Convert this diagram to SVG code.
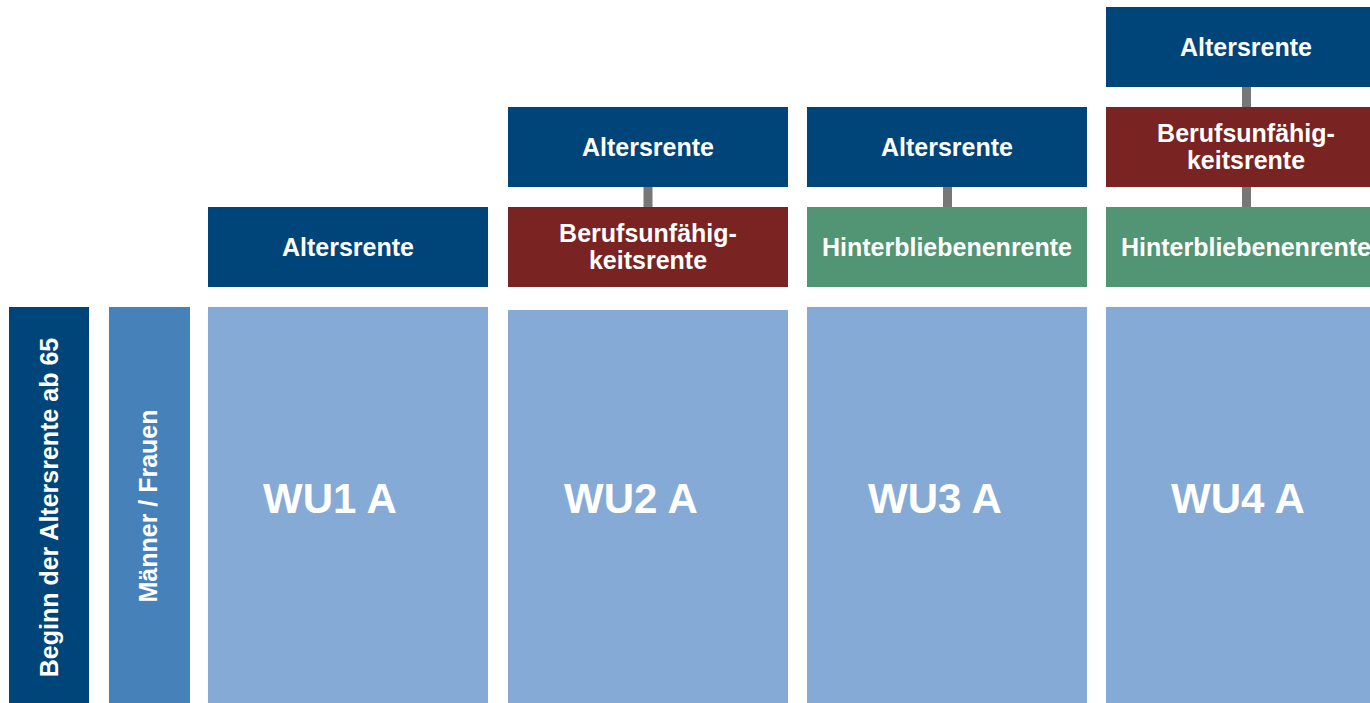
<svg xmlns="http://www.w3.org/2000/svg" width="1370" height="703" viewBox="0 0 1370 703">
<style>
.t{font-family:"Liberation Sans",Arial,sans-serif;font-weight:bold;fill:#ffffff;font-size:25px;text-anchor:middle}
.wu{font-size:42px;text-anchor:start}
.dk{fill:#00457A}
.rd{fill:#7A2323}
.gr{fill:#529574}
.lb{fill:#86AAD6}
.mb{fill:#4682B9}
.cn{fill:#777777}
</style>
<rect width="1370" height="703" fill="#ffffff"/>
<g id="connectors">
<rect class="cn" x="643.5" y="187" width="9" height="20"/>
<rect class="cn" x="943" y="187" width="9" height="20"/>
<rect class="cn" x="1242" y="87" width="9" height="20"/>
<rect class="cn" x="1242" y="187" width="9" height="20"/>
</g>
<g id="beginn">
<rect class="dk" x="9" y="307" width="80" height="396"/>
<text class="t" transform="translate(57.5,507.5) rotate(-90)">Beginn der Altersrente ab 65</text>
</g>
<g id="geschlecht">
<rect class="mb" x="109" y="307" width="81" height="396"/>
<text class="t" transform="translate(156.5,506) rotate(-90)">Männer / Frauen</text>
</g>
<g id="wu1">
<rect class="lb" x="208" y="307" width="280" height="396"/>
<text class="t wu" x="263" y="513">WU1 A</text>
</g>
<g id="wu1-alters">
<rect class="dk" x="208" y="207" width="280" height="80"/>
<text class="t" x="348" y="255.7">Altersrente</text>
</g>
<g id="wu2">
<rect class="lb" x="508" y="310" width="280" height="393"/>
<text class="t wu" x="564" y="513">WU2 A</text>
</g>
<g id="wu2-alters">
<rect class="dk" x="508" y="107" width="280" height="80"/>
<text class="t" x="648" y="155.7">Altersrente</text>
</g>
<g id="wu2-bu">
<rect class="rd" x="508" y="207" width="280" height="80"/>
<text class="t" x="648" y="242">Berufsunfähig-</text>
<text class="t" x="648" y="269">keitsrente</text>
</g>
<g id="wu3">
<rect class="lb" x="807" y="307" width="280" height="396"/>
<text class="t wu" x="868" y="513">WU3 A</text>
</g>
<g id="wu3-alters">
<rect class="dk" x="807" y="107" width="280" height="80"/>
<text class="t" x="947" y="155.7">Altersrente</text>
</g>
<g id="wu3-hinter">
<rect class="gr" x="807" y="207" width="280" height="80"/>
<text class="t" x="947" y="255.7">Hinterbliebenenrente</text>
</g>
<g id="wu4">
<rect class="lb" x="1106" y="307" width="280" height="396"/>
<text class="t wu" x="1171" y="513">WU4 A</text>
</g>
<g id="wu4-alters">
<rect class="dk" x="1106" y="7" width="280" height="80"/>
<text class="t" x="1246" y="55.7">Altersrente</text>
</g>
<g id="wu4-bu">
<rect class="rd" x="1106" y="107" width="280" height="80"/>
<text class="t" x="1246" y="142">Berufsunfähig-</text>
<text class="t" x="1246" y="169">keitsrente</text>
</g>
<g id="wu4-hinter">
<rect class="gr" x="1106" y="207" width="280" height="80"/>
<text class="t" x="1246" y="255.7">Hinterbliebenenrente</text>
</g>
</svg>
